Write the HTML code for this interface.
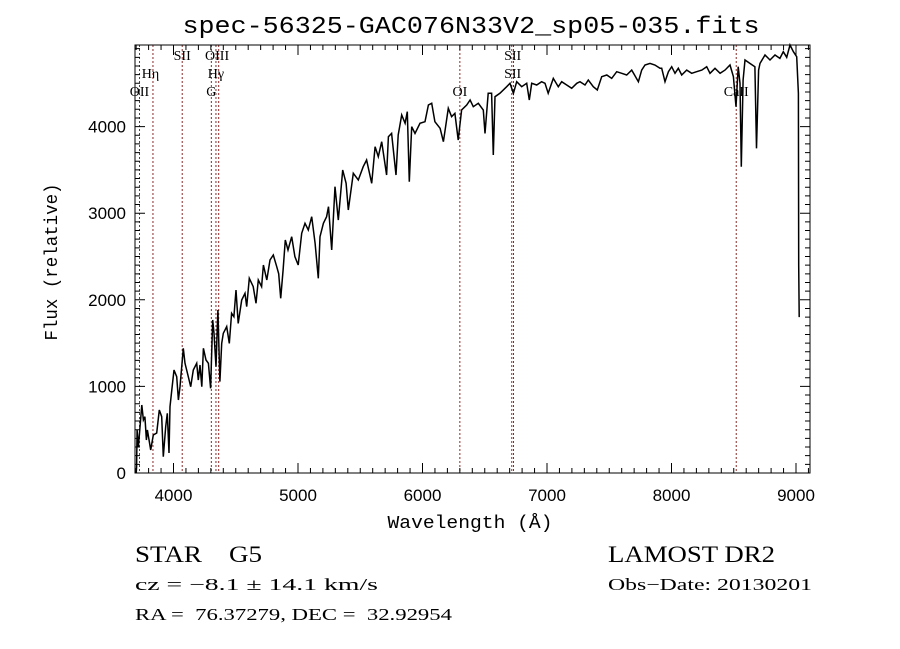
<!DOCTYPE html>
<html><head><meta charset="utf-8"><style>
html,body{margin:0;padding:0;background:#fff;}
svg{display:block;}
</style></head><body>
<svg id="chart" width="900" height="649" viewBox="0 0 900 649" xmlns="http://www.w3.org/2000/svg">
<rect x="0" y="0" width="900" height="649" fill="#fff"/>
<text x="471" y="33" text-anchor="middle" font-family="Liberation Mono, monospace" font-size="24" textLength="577" lengthAdjust="spacingAndGlyphs">spec-56325-GAC076N33V2_sp05-035.fits</text>
<g id="lines"></g>
<g id="series"></g>
<g id="axes"></g>
<text x="470" y="528" text-anchor="middle" font-family="Liberation Mono, monospace" font-size="18" textLength="165" lengthAdjust="spacingAndGlyphs">Wavelength (Å)</text>
<text transform="translate(57,262) rotate(-90)" text-anchor="middle" font-family="Liberation Mono, monospace" font-size="18" textLength="157" lengthAdjust="spacingAndGlyphs">Flux (relative)</text>
<text x="135" y="562" font-family="Liberation Serif, serif" font-size="23" textLength="127" lengthAdjust="spacingAndGlyphs" xml:space="preserve">STAR    G5</text>
<text x="608" y="562" font-family="Liberation Serif, serif" font-size="23" textLength="167" lengthAdjust="spacingAndGlyphs">LAMOST DR2</text>
<text x="135" y="590" font-family="Liberation Serif, serif" font-size="17" textLength="243" lengthAdjust="spacingAndGlyphs">cz = −8.1 ± 14.1 km/s</text>
<text x="608" y="590" font-family="Liberation Serif, serif" font-size="17" textLength="204" lengthAdjust="spacingAndGlyphs">Obs−Date: 20130201</text>
<text x="135" y="620" font-family="Liberation Serif, serif" font-size="17" textLength="317" lengthAdjust="spacingAndGlyphs" xml:space="preserve">RA =  76.37279, DEC =  32.92954</text>
</svg>
<script>
const wavelengths = [3700,3704,3708,3718,3745,3758,3770,3782,3790,3817,3838,3865,3886,3905,3918,3937,3950,3964,3972,3986,4004,4026,4039,4052,4079,4092,4119,4138,4159,4186,4199,4213,4227,4240,4261,4280,4298,4315,4325,4341,4357,4373,4387,4400,4427,4448,4467,4485,4502,4520,4548,4574,4588,4609,4640,4663,4681,4708,4722,4749,4775,4802,4829,4845,4861,4880,4898,4920,4949,4975,5002,5030,5056,5083,5110,5137,5163,5177,5204,5230,5245,5271,5297,5324,5359,5386,5404,5444,5484,5524,5551,5592,5619,5645,5672,5712,5726,5752,5787,5805,5833,5860,5878,5894,5913,5940,5980,6020,6047,6074,6100,6141,6168,6207,6234,6260,6287,6314,6355,6382,6408,6448,6488,6502,6528,6555,6569,6582,6622,6676,
6703,6730,6757,6797,6837,6858,6877,6917,6957,6984,7010,7051,7091,7118,7158,7198,7239,7265,7305,7332,7372,7404,7439,7480,7520,7560,7600,7640,7680,7734,7761,7787,7827,7867,7908,7921,7948,7975,8002,8028,8055,8082,8122,8162,8202,8243,8283,8309,8349,8390,8430,8470,8497,8518,8536,8550,8561,8575,8590,8630,8670,8683,8700,8711,8751,8791,8831,8871,8898,8925,8952,8979,9006,9019,9022,9026];
const fluxes = [0,73,496,304,785,612,650,381,496,266,439,462,727,650,188,535,689,231,766,958,1189,1112,843,997,1440,1267,1112,997,1189,1267,1074,1247,997,1440,1305,1267,978,1767,1614,1228,1882,1055,1497,1613,1690,1497,1844,1805,2113,1728,1998,2075,1921,2248,2152,1960,2229,2152,2402,2229,2460,2517,2383,2300,2017,2344,2690,2575,2729,2498,2402,2768,2883,2806,2960,2652,2248,2729,2883,2960,3075,2575,3306,2921,3499,3345,3037,3461,3383,3537,3614,3345,3768,3652,3826,3441,3883,3922,3441,3903,4134,4038,4172,3364,3999,3922,4038,4057,4249,4269,4057,3980,3826,4211,4114,4153,3845,4192,4249,4307,4230,4269,4192,3922,4384,4384,3672,4345,4384,4461,
4500,4384,4519,4461,4500,4307,4500,4480,4519,4500,4384,4557,4461,4519,4480,4442,4500,4519,4480,4538,4461,4423,4576,4596,4557,4634,4615,4596,4653,4519,4653,4711,4730,4711,4673,4673,4519,4634,4692,4615,4673,4596,4653,4615,4634,4653,4692,4615,4673,4615,4653,4711,4576,4230,4692,4500,3537,4538,4769,4730,4690,3749,4653,4730,4827,4769,4827,4788,4865,4800,4942,4865,4807,4384,2400,1800];
const xTicks = [4000,5000,6000,7000,8000,9000];
const yTicks = [0,1000,2000,3000,4000];
const lineWaves = [3727,3835,4070,4304,4341,4363,6300,6717,6731,8520];
const lineLabels = [
  {t:"OII", w:3727, y:96},{t:"Hη", w:3815, y:78},{t:"SII", w:4070, y:60},
  {t:"OIII", w:4350, y:60},{t:"Hγ", w:4341, y:78},{t:"G", w:4304, y:96},
  {t:"OI", w:6300, y:96},{t:"SII", w:6724, y:60},{t:"SII", w:6724, y:78},{t:"CaII", w:8520, y:96}
];
const L=135,R=810,T=45,B=473;
function xs(w){return 298+(w-5000)*0.1245;}
function ys(f){return 473-f*0.0866;}
const NS="http://www.w3.org/2000/svg";
function mk(tag,attrs,parent){const e=document.createElementNS(NS,tag);for(const k in attrs)e.setAttribute(k,attrs[k]);parent.appendChild(e);return e;}
const gl=document.getElementById('lines');
lineWaves.forEach(w=>{
  const l=mk('line',{x1:xs(w),x2:xs(w),y1:T,y2:B,stroke:'#8b2a2a','stroke-width':1,'stroke-dasharray':'2,2'},gl);
  
  
});
lineLabels.forEach(o=>{
  const t=mk('text',{x:xs(o.w),y:o.y,'text-anchor':'middle','font-family':'Liberation Serif, serif','font-size':14},gl);
  t.textContent=o.t;
  
  
});
const gs=document.getElementById('series');
let d='';
wavelengths.forEach((w,i)=>{d+=(i?'L':'M')+xs(w).toFixed(1)+','+ys(fluxes[i]).toFixed(1);});
const p=mk('path',{d:d,fill:'none',stroke:'#000','stroke-width':1.5,'stroke-linejoin':'miter'},gs);


const ga=document.getElementById('axes');
const fr=mk('rect',{x:L,y:T,width:R-L,height:B-T,fill:'none',stroke:'#000','stroke-width':1},ga);


let td='';
for(let w=3700;w<=9100;w+=100){const x=xs(w);if(x<L||x>R)continue;const len=(w%1000===0)?10:5;td+=`M${x},${B}v${-len}M${x},${T}v${len}`;}
for(let f=0;f<=4900;f+=100){const y=ys(f);if(y<T)continue;const len=(f%1000===0)?10:5;td+=`M${L},${y}h${len}M${R},${y}h${-len}`;}
const tk=mk('path',{d:td,stroke:'#000','stroke-width':1,fill:'none'},ga);


xTicks.forEach(w=>{
  const t=mk('text',{x:xs(w),y:501,'text-anchor':'middle','font-family':'Liberation Sans, sans-serif','font-size':17},ga);
  t.textContent=w;
  
  
});
yTicks.forEach(f=>{
  const t=mk('text',{x:126,y:ys(f)+6,'text-anchor':'end','font-family':'Liberation Sans, sans-serif','font-size':17},ga);
  t.textContent=f;
  
  
});
</script>
</body></html>
